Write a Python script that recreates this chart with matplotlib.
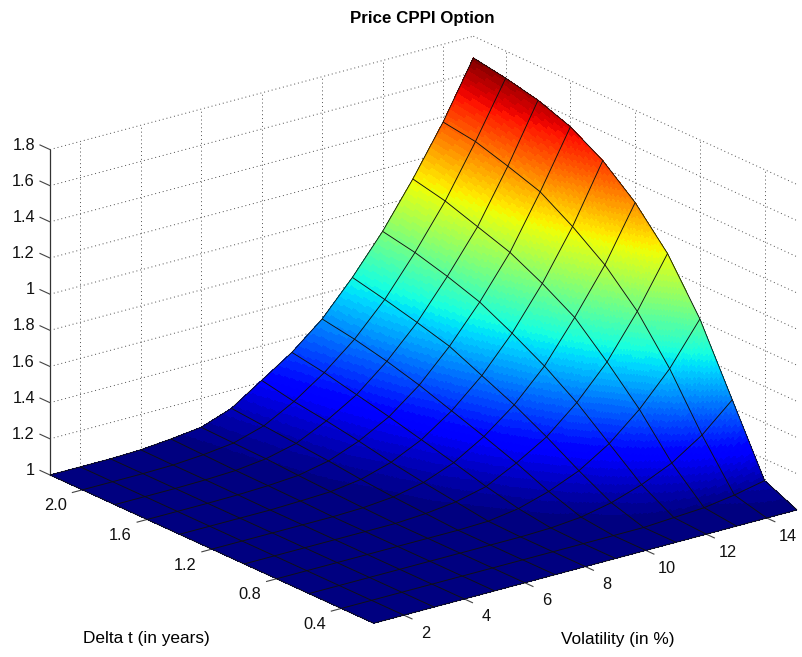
import matplotlib
matplotlib.use('Agg')
import matplotlib.pyplot as plt
import numpy as np
from mpl_toolkits.mplot3d import proj3d

plt.rcParams['font.family'] = ['Liberation Sans', 'DejaVu Sans']

# Dados
volatility = [1, 2, 3, 4, 5, 6, 7, 8, 9, 10, 11, 12, 13, 14, 15]
delta_t = [0.2, 0.4, 0.6, 0.8, 1.0, 1.2, 1.4, 1.6, 1.8, 2.0, 2.2]
price = [
    [1, 1, 1, 1, 1, 1, 1, 1, 1, 1, 1, 1, 1, 1, 1],
    [1, 1, 1, 1, 1, 1, 1, 1, 1, 1, 1, 1.01, 1.02, 1.045, 1.08],
    [1, 1, 1, 1, 1, 1, 1, 1, 1.005, 1.02, 1.055, 1.11, 1.185, 1.295, 1.445],
    [1, 1, 1, 1, 1, 1, 1, 1.005, 1.03, 1.08, 1.15, 1.255, 1.40, 1.58, 1.81],
    [1, 1, 1, 1, 1, 1, 1.01, 1.03, 1.07, 1.155, 1.255, 1.40, 1.58, 1.815, 2.09],
    [1, 1, 1, 1, 1, 1.005, 1.02, 1.055, 1.12, 1.22, 1.35, 1.52, 1.744, 1.99, 2.29],
    [1, 1, 1, 1, 1.005, 1.012, 1.035, 1.085, 1.165, 1.28, 1.43, 1.62, 1.85, 2.12, 2.44],
    [1, 1, 1, 1.002, 1.008, 1.02, 1.055, 1.12, 1.21, 1.34, 1.51, 1.71, 1.94, 2.23, 2.545],
    [1, 1, 1, 1.003, 1.01, 1.03, 1.07, 1.15, 1.25, 1.39, 1.56, 1.77, 2.00, 2.29, 2.61],
    [1, 1, 1, 1.003, 1.015, 1.035, 1.085, 1.175, 1.29, 1.43, 1.605, 1.82, 2.06, 2.344, 2.65],
    [1, 1, 1, 1.005, 1.02, 1.04, 1.10, 1.21, 1.32, 1.46, 1.645, 1.855, 2.10, 2.37, 2.68],
]
vol_ticks = [2, 4, 6, 8, 10, 12, 14]
dt_ticks = [0.4, 0.8, 1.2, 1.6, 2.0]
dt_labels = ['0.4', '0.8', '1.2', '1.6', '2.0']
z_ticks = [1, 1.2, 1.4, 1.6, 1.8, 2, 2.2, 2.4, 2.6, 2.8]
z_labels = ['1', '1.2', '1.4', '1.6', '1.8', '1', '1.2', '1.4', '1.6', '1.8']

W, H = 803, 657
fig = plt.figure(figsize=(W / 100, H / 100), dpi=100)
ax = fig.add_axes([0, 0, 1, 1], projection='3d', proj_type='ortho', computed_zorder=False)
ax.set_box_aspect((1, 1, 0.652))
ax.view_init(elev=20.5, azim=-127.4)
ax.set_xlim(1, 15)
ax.set_ylim(0.2, 2.2)
ax.set_zlim(1, 2.8)
ax.set_axis_off()


def to_pixels(x, y, z):
    px, py, _ = proj3d.proj_transform(x, y, z, ax.get_proj())
    return ax.transData.transform((px, py))


# encaixa a caixa 3D nos pixels da figura original
fig.canvas.draw()
p1 = to_pixels(1, 2.2, 1)
p2 = to_pixels(15, 0.2, 1)
side = H * (797 - 50) / (p2[0] - p1[0])
ax.set_position([0, 0, side / W, side / H])
fig.canvas.draw()
p1 = to_pixels(1, 2.2, 1)
ax.set_position([(50 - p1[0]) / W, ((H - 475) - p1[1]) / H, side / W, side / H])
fig.canvas.draw()

# malha fina so para o degrade de cor (shading interp)
X, Y = np.meshgrid(volatility, delta_t)
Z = np.array(price)
fino_v = np.linspace(1, 15, 281)
fino_t = np.linspace(0.2, 2.2, 201)
Z_col = np.array([np.interp(fino_t, delta_t, Z[:, j]) for j in range(Z.shape[1])]).T
Z_fino = np.array([np.interp(fino_v, volatility, linha) for linha in Z_col])
Xf, Yf = np.meshgrid(fino_v, fino_t)

jet = plt.get_cmap('jet', 64)
cores = jet((Z_fino - 1) / (Z.max() - 1))
ax.plot_surface(Xf, Yf, Z_fino, rstride=1, cstride=1, facecolors=cores, shade=False,
                antialiased=False, linewidth=0, zorder=2)
ax.plot_wireframe(X, Y, Z, rstride=1, cstride=1, color='#111111', linewidth=0.65, zorder=3)

# grade pontilhada nas paredes do fundo
grade = dict(color='#505050', linewidth=0.7, linestyle=(0, (1, 3)), zorder=1)
for v in vol_ticks:
    ax.plot([v, v], [2.2, 2.2], [1, 2.8], **grade)
for t in dt_ticks:
    ax.plot([15, 15], [t, t], [1, 2.8], **grade)
for z in z_ticks:
    ax.plot([1, 15], [2.2, 2.2], [z, z], **grade)
    ax.plot([15, 15], [2.2, 0.2], [z, z], **grade)

# eixo z, tracinhos e rotulos (texto 2D, na posicao projetada de cada valor)
marca = dict(color='#444444', linewidth=0.8, zorder=1)
rotulo = dict(ha='center', va='center', fontsize=11.8, color='#111111')
ax.plot([1, 1], [2.2, 2.2], [1, 2.8], color='#333333', linewidth=0.9, zorder=1)
for z, nome in zip(z_ticks, z_labels):
    ax.plot([1, 1], [2.2, 2.262], [z, z], **marca)
    px, py = to_pixels(1, 2.2, z)
    fig.text((px - 15) / W, (py + 4.5) / H, nome, ha='right', va='center', fontsize=11.8, color='#111111')
for v in vol_ticks:
    ax.plot([v, v], [0.2, 0.15], [1, 1], **marca)
    px, py = to_pixels(v, 0.2, 1)
    fig.text((px + 21.5) / W, (py - 18) / H, str(v), **rotulo)
for t, nome in zip(dt_ticks, dt_labels):
    ax.plot([1, 0.67], [t, t], [1, 1], **marca)
    px, py = to_pixels(1, t, 1)
    fig.text((px - 27) / W, (py - 16) / H, nome, **rotulo)

fig.text(422 / W, 1 - 18.5 / H, 'Price CPPI Option', ha='center', va='center',
         fontsize=12.2, fontweight='bold')
fig.text(146 / W, 1 - 638.5 / H, 'Delta t (in years)', ha='center', va='center', fontsize=12.4)
fig.text(618 / W, 1 - 639.5 / H, 'Volatility (in %)', ha='center', va='center', fontsize=12.4)

fig.savefig('out.png', dpi=100)
